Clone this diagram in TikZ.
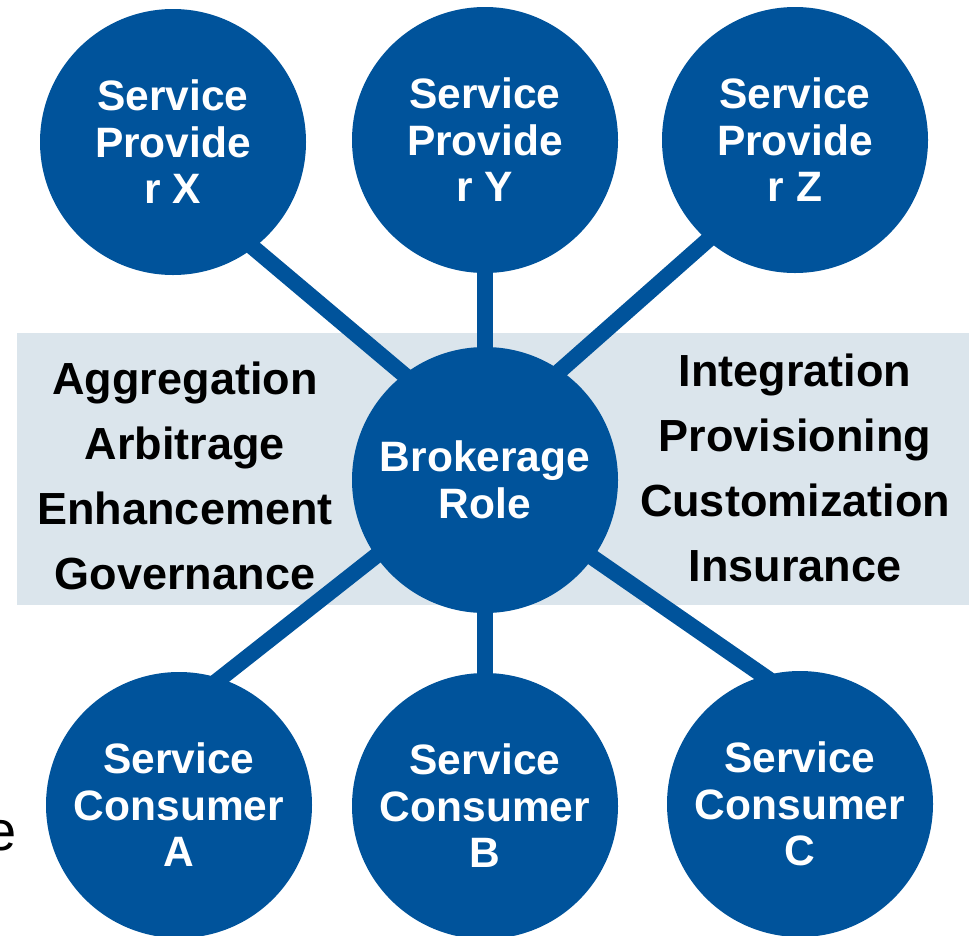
\documentclass[tikz,border=0pt]{standalone}
\usepackage{fontspec}
\setmainfont{Liberation Sans}
\usetikzlibrary{backgrounds}

\definecolor{roleblue}{RGB}{0,83,155}
\definecolor{bandgray}{RGB}{219,229,236}

\tikzset{
  party/.style = {circle, fill = roleblue, text = white, minimum size = 266pt, inner sep = 0pt,
                  align = center, font = \fontsize{42.5}{46.5}\selectfont\bfseries},
  duties/.style = {align = center, text = black, inner sep = 0pt,
                   font = \fontsize{45}{65}\selectfont\bfseries},
  spoke/.style = {draw = roleblue, line width = 16pt}
}

\begin{document}
\begin{tikzpicture}[x = 1pt, y = -1pt]
\useasboundingbox (0, 0) rectangle (971, 935);

\node[party] (provX) at (173, 142) {Service\\Provide\\r X};
\node[party] (provY) at (485, 140) {Service\\Provide\\r Y};
\node[party] (provZ) at (795, 140) {Service\\Provide\\r Z};
\node[party] (broker) at (485, 480) {Brokerage\\Role};
\node[party] (consA) at (179, 805) {Service\\Consumer\\A};
\node[party] (consB) at (485, 806) {Service\\Consumer\\B};
\node[party] (consC) at (800, 804) {Service\\Consumer\\C};

% spoke ends, hidden under the circles
\coordinate (hubX) at (485, 443);
\coordinate (footX) at (173, 180);
\coordinate (hubZ) at (485, 437);
\coordinate (footZ) at (795, 163);
\coordinate (hubA) at (485, 470);
\coordinate (footA) at (179, 711);
\coordinate (hubC) at (485, 483);
\coordinate (footC) at (800, 701);

\node[duties] (leftduties) at (185, 476) {Aggregation\\Arbitrage\\Enhancement\\Governance};
\node[duties] (rightduties) at (795, 468) {Integration\\Provisioning\\Customization\\Insurance};

\node[anchor = base east, inner sep = 0pt, font = \fontsize{56}{60}\selectfont] (cutoff) at (17, 850) {e};

\begin{scope}[on background layer]
\fill[bandgray] (17, 333) rectangle (969, 605);
\draw[spoke] (hubX) -- (footX);
\draw[spoke] (broker.center) -- (provY.center);
\draw[spoke] (hubZ) -- (footZ);
\draw[spoke] (hubA) -- (footA);
\draw[spoke] (broker.center) -- (consB.center);
\draw[spoke] (hubC) -- (footC);
\end{scope}
\end{tikzpicture}
\end{document}
